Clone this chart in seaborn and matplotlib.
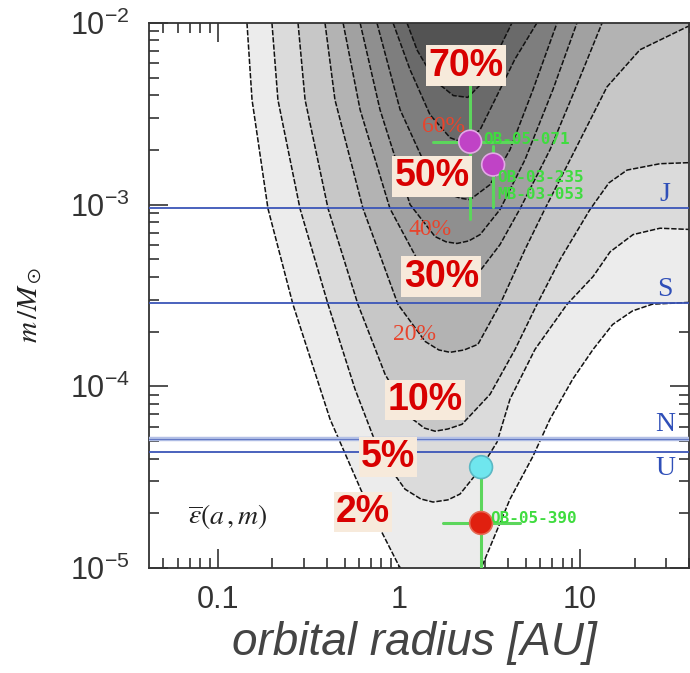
import numpy as np
import pandas as pd
import matplotlib
matplotlib.use("Agg")
import matplotlib.pyplot as plt
import seaborn as sns

# ---- detection-efficiency contours: outlines in log10(a / AU), log10(m / Msun)
levels = [0.02, 0.05, 0.10, 0.20, 0.30, 0.40, 0.50, 0.60, 0.70]

eff02_loga = [-0.840, -0.812, -0.724, -0.586, -0.381, -0.188, 0.0, 0.10, 0.25, 0.40, 0.459,
              0.613, 0.740, 0.834, 0.960, 1.072, 1.180, 1.290, 1.400, 1.608, 1.70]
eff02_logm = [-2.0, -2.423, -3.022, -3.549, -4.181, -4.621, -4.989, -5.12, -5.18, -5.10, -4.989,
              -4.621, -4.385, -4.181, -3.960, -3.797, -3.660, -3.585, -3.548, -3.538, -3.538]

eff05_loga = [-0.702, -0.669, -0.547, -0.392, -0.243, -0.105, 0.033, 0.120, 0.188, 0.270, 0.337,
              0.448, 0.541, 0.613, 0.751, 0.928, 1.072, 1.166, 1.293, 1.442, 1.608, 1.70]
eff05_logm = [-2.0, -2.423, -3.022, -3.549, -4.016, -4.374, -4.566, -4.620, -4.637, -4.625, -4.593,
              -4.456, -4.308, -4.071, -3.797, -3.549, -3.396, -3.260, -3.165, -3.130, -3.137, -3.137]

eff10_loga = [-0.558, -0.519, -0.392, -0.227, -0.077, 0.061, 0.140, 0.199, 0.270, 0.348, 0.503,
              0.641, 0.762, 0.890, 1.055, 1.160, 1.260, 1.442, 1.608, 1.70]
eff10_logm = [-2.0, -2.423, -3.022, -3.549, -3.934, -4.170, -4.230, -4.247, -4.235, -4.209, -4.044,
              -3.797, -3.549, -3.302, -3.027, -2.880, -2.810, -2.775, -2.769, -2.769]

eff20_loga = [-0.409, -0.354, -0.199, -0.006, 0.144, 0.220, 0.282, 0.360, 0.436, 0.558, 0.696,
              0.807, 0.945, 1.149, 1.331, 1.591, 1.70]
eff20_logm = [-2.0, -2.423, -3.022, -3.549, -3.753, -3.800, -3.813, -3.800, -3.769, -3.549, -3.247,
              -3.022, -2.753, -2.352, -2.148, -2.022, -1.98]

eff30_loga = [-0.309, -0.215, -0.050, 0.116, 0.200, 0.265, 0.340, 0.420, 0.558, 0.669, 0.834,
              0.972, 1.122]
eff30_logm = [-2.0, -2.478, -3.022, -3.330, -3.420, -3.451, -3.435, -3.401, -3.220, -3.022, -2.698,
              -2.368, -2.0]

eff40_loga = [-0.215, -0.105, 0.061, 0.199, 0.260, 0.320, 0.385, 0.448, 0.558, 0.696, 0.850, 0.983]
eff40_logm = [-2.0, -2.478, -3.0, -3.176, -3.205, -3.214, -3.200, -3.165, -3.027, -2.753, -2.368, -2.0]

eff50_loga = [-0.122, 0.006, 0.144, 0.282, 0.340, 0.392, 0.503, 0.613, 0.740, 0.873]
eff50_logm = [-2.0, -2.478, -2.780, -2.945, -2.965, -2.973, -2.890, -2.698, -2.368, -2.0]

eff60_loga = [-0.033, 0.061, 0.171, 0.282, 0.330, 0.365, 0.448, 0.530, 0.640, 0.762]
eff60_logm = [-2.0, -2.258, -2.505, -2.632, -2.650, -2.654, -2.588, -2.423, -2.200, -2.0]

eff70_loga = [0.044, 0.100, 0.200, 0.300, 0.380, 0.460, 0.540, 0.624]
eff70_logm = [-2.0, -2.150, -2.320, -2.400, -2.410, -2.330, -2.170, -2.0]

band_colors = ["#ececec", "#dbdbdb", "#c7c7c7", "#b3b3b3", "#a1a1a1",
               "#8f8f8f", "#7e7e7e", "#6a6a6a", "#535353"]

# ---- solar-system planets (mass in Msun)
ss_names = ["J", "S", "N", "U"]
ss_mass = [9.55e-4, 2.86e-4, 5.15e-5, 4.37e-5]

# ---- microlensing planets
pl_names = ["OB-05-071", "OB-03-235", "OB-05-169", "OB-05-390"]
pl_a = [2.47, 3.31, 2.84, 2.84]
pl_m = [2.22e-3, 1.66e-3, 3.59e-5, 1.77e-5]
pl_a_lo = [1.54, 3.31, 2.84, 1.75]
pl_a_hi = [4.49, 3.31, 2.84, 4.66]
pl_m_lo = [8.3e-4, 9.7e-4, 3.59e-5, 0.8e-5]
pl_m_hi = [5.0e-3, 2.1e-3, 3.59e-5, 3.4e-5]
pl_colors = ["#c043c6", "#c043c6", "#6fe6ee", "#e0200f"]

sns.set_theme(style="ticks")
plt.rcParams["font.family"] = ["Liberation Sans", "DejaVu Sans"]
plt.rcParams["mathtext.fontset"] = "custom"
plt.rcParams["mathtext.rm"] = "Liberation Sans"
plt.rcParams["mathtext.it"] = "Liberation Sans:italic"

fig = plt.figure(figsize=(6.9, 6.73), dpi=100)
ax = fig.add_axes([0.216, 0.156, 0.7826, 0.81])
ax.set_xscale("log")
ax.set_yscale("log")
ax.set_xlim(0.0416, 40.0)
ax.set_ylim(1e-5, 1e-2)
ax.set_facecolor("white")

outlines = [
    (eff02_loga, eff02_logm), (eff05_loga, eff05_logm), (eff10_loga, eff10_logm),
    (eff20_loga, eff20_logm), (eff30_loga, eff30_logm), (eff40_loga, eff40_logm),
    (eff50_loga, eff50_logm), (eff60_loga, eff60_logm), (eff70_loga, eff70_logm),
]

# filled bands: each region of efficiency above a level, painted light to dark
for (la, lm), col in zip(outlines, band_colors):
    a = 10 ** np.asarray(la)
    m = 10 ** np.asarray(lm)
    pa = np.concatenate([a, [a[-1], a[0]]])
    pm = np.concatenate([m, [1.0, 1.0]])
    ax.fill(pa, pm, color=col, lw=0, zorder=1)

# dashed contour outlines
for la, lm in outlines:
    ax.plot(10 ** np.asarray(la), 10 ** np.asarray(lm), color="#111111",
            lw=1.1, ls=(0, (3.5, 1.2)), zorder=2)

# solar-system reference masses
for name, mass in zip(ss_names, ss_mass):
    if name == "N":
        ax.axhline(mass, color="#b3c0e6", lw=3.2, zorder=3)
        ax.axhline(mass, color="#6479c4", lw=0.8, zorder=3)
    else:
        ax.axhline(mass, color="#3b55b8", lw=1.3, zorder=3)
ss_text_m = {"J": (9.55e-4, "bottom"), "S": (2.86e-4, "bottom"),
             "N": (5.15e-5, "bottom"), "U": (4.37e-5, "top")}
for name in ss_names:
    mm, va = ss_text_m[name]
    ax.text(29.5, mm * (1.02 if va == "bottom" else 0.95), name, color="#2f4fb8",
            fontsize=20, family="Liberation Serif", ha="center", va=va, zorder=6)

# planets with error bars
planets = pd.DataFrame({"name": pl_names, "a": pl_a, "m": pl_m})
for i in range(len(pl_names)):
    if pl_a_hi[i] > pl_a_lo[i]:
        ax.plot([pl_a_lo[i], pl_a_hi[i]], [pl_m[i], pl_m[i]], color="#5cd65c", lw=2.2, zorder=4)
    if pl_m_hi[i] > pl_m_lo[i]:
        ax.plot([pl_a[i], pl_a[i]], [pl_m_lo[i], pl_m_hi[i]], color="#5cd65c", lw=2.2, zorder=4)
sns.scatterplot(data=planets, x="a", y="m", hue="name",
                palette=dict(zip(pl_names, pl_colors)), s=270, legend=False,
                edgecolor=["#e3a8e6", "#e3a8e6", "#5bb8c4", "#e56a55"], linewidth=1.2,
                ax=ax, zorder=5)

green = "#3fdc3f"
lab_kw = dict(color=green, fontsize=11.5, family="DejaVu Sans Mono", fontweight="bold",
              ha="left", va="center", zorder=6)
ax.text(2.91, 2.28e-3, "OB-05-071", **lab_kw)
ax.text(3.48, 1.41e-3, "OB-03-235", **lab_kw)
ax.text(3.48, 1.13e-3, "MB-03-053", **lab_kw)
ax.text(3.18, 1.88e-5, "OB-05-390", **lab_kw)

# boxed efficiency labels
box_kw = dict(color="#d80000", fontsize=27, fontweight="bold", ha="center", va="center",
              zorder=7, bbox=dict(facecolor="#f7eadb", edgecolor="none", pad=1.5))
ax.text(2.35, 5.81e-3, "70%", **box_kw)
ax.text(1.52, 1.43e-3, "50%", **box_kw)
ax.text(1.71, 4.02e-4, "30%", **box_kw)
ax.text(1.39, 8.38e-5, "10%", **box_kw)
ax.text(0.869, 4.07e-5, "5%", **box_kw)
ax.text(0.633, 2.03e-5, "2%", **box_kw)

# inline contour labels
in_kw = dict(color="#e8442c", fontsize=17, family="Liberation Serif", ha="center",
             va="center", zorder=6)
ax.text(1.75, 2.68e-3, "60%", **in_kw)
ax.text(1.48, 7.3e-4, "40%", **in_kw)
ax.text(1.22, 1.93e-4, "20%", **in_kw)

ax.text(0.1135, 1.93e-5, r"$\overline{\varepsilon}(a\,,m)$", fontsize=20,
        color="#222222", ha="center", va="center", math_fontfamily="stix", zorder=6)

# axes decoration
ax.set_yticks([1e-5, 1e-4, 1e-3, 1e-2])
ax.set_yticklabels([r"$10^{-5}$", r"$10^{-4}$", r"$10^{-3}$", r"$10^{-2}$"])
ax.set_xticks([0.1, 1, 10])
ax.set_xticklabels(["0.1", "1", "10"])
ax.tick_params(which="both", direction="in", top=True, right=True, colors="#333333",
               width=1.2)
ax.tick_params(axis="y", labelsize=22, pad=14)
ax.tick_params(axis="x", labelsize=22, pad=12)
ax.tick_params(which="major", length=14)
ax.tick_params(which="minor", length=7)
for sp in ax.spines.values():
    sp.set_color("#333333")
    sp.set_linewidth(1.3)
ax.set_xlabel("")
ax.set_ylabel("")

fig.text(414 / 690, 1 - 643 / 673, "orbital radius [AU]", fontsize=33, style="italic",
         color="#444444", ha="center", va="center")
fig.text(30 / 690, 1 - 305 / 673, r"$m\,/M_\odot$", fontsize=21, rotation=90,
         color="#222222", ha="center", va="center", math_fontfamily="stix")

fig.savefig("out.png", dpi=100)
